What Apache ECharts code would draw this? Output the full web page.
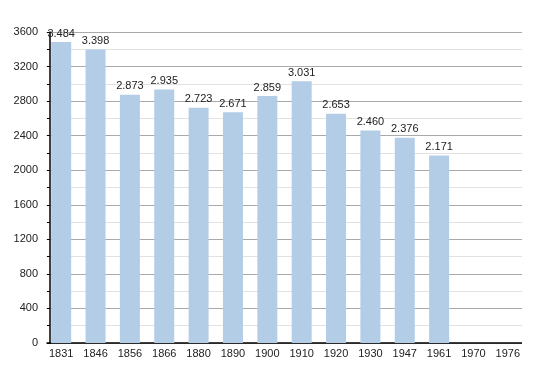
<!DOCTYPE html>
<html><head><meta charset="utf-8">
<script src="https://cdn.jsdelivr.net/npm/echarts@6/dist/echarts.min.js"></script>
<style>html,body{margin:0;padding:0;background:#fff}#c{width:550px;height:373px}</style>
</head><body><div id="c"></div>
<script>
const years = ['1831','1846','1856','1866','1880','1890','1900','1910','1920','1930','1947','1961','1970','1976'];
const population = [3484,3398,2873,2935,2723,2671,2859,3031,2653,2460,2376,2171,null,null];
const yTicks = [0,400,800,1200,1600,2000,2400,2800,3200,3600];

const fmt = v => String(v).replace(/\B(?=(\d{3})+(?!\d))/g, '.');
const chart = echarts.init(document.getElementById('c'));
chart.setOption({
  animation: false,
  textStyle: { fontFamily: 'Liberation Sans, Arial, sans-serif' },
  grid: { left: 44, right: 25, top: 32, bottom: 30 },
  xAxis: {
    type: 'category', data: years, boundaryGap: true,
    axisLine: { lineStyle: { color: '#000', width: 1.5 } },
    axisTick: { show: false },
    axisLabel: { color: '#222', fontSize: 11, margin: 5 }
  },
  yAxis: {
    type: 'value', min: yTicks[0], max: yTicks[yTicks.length-1], interval: 400,
    offset: -6,
    axisLine: { show: true, lineStyle: { color: '#000', width: 1.5 } },
    axisTick: { show: true, length: 3, lineStyle: { color: '#000' } },
    minorTick: { show: true, splitNumber: 2, length: 3, lineStyle: { color: '#000' } },
    axisLabel: { color: '#222', fontSize: 11, margin: 12, formatter: v => String(v) },
    splitLine: { show: true, lineStyle: { color: '#aaa', width: 1 } },
    minorSplitLine: { show: true, lineStyle: { color: '#e2e2e2', width: 1 } }
  },
  series: [{
    type: 'bar', data: population, barWidth: 20,
    itemStyle: { color: '#b3cde6' },
    label: { show: true, position: 'top', distance: 3, color: '#222', fontSize: 11,
      formatter: p => fmt(p.value) }
  }],
  graphic: [
    { type: 'rect', shape: { x: 42, y: 20, width: 4.5, height: 330 }, style: { fill: '#fff' }, z: 100 },
    { type: 'rect', shape: { x: 522, y: 20, width: 10, height: 330 }, style: { fill: '#fff' }, z: 100 }
  ]
});
</script></body></html>
